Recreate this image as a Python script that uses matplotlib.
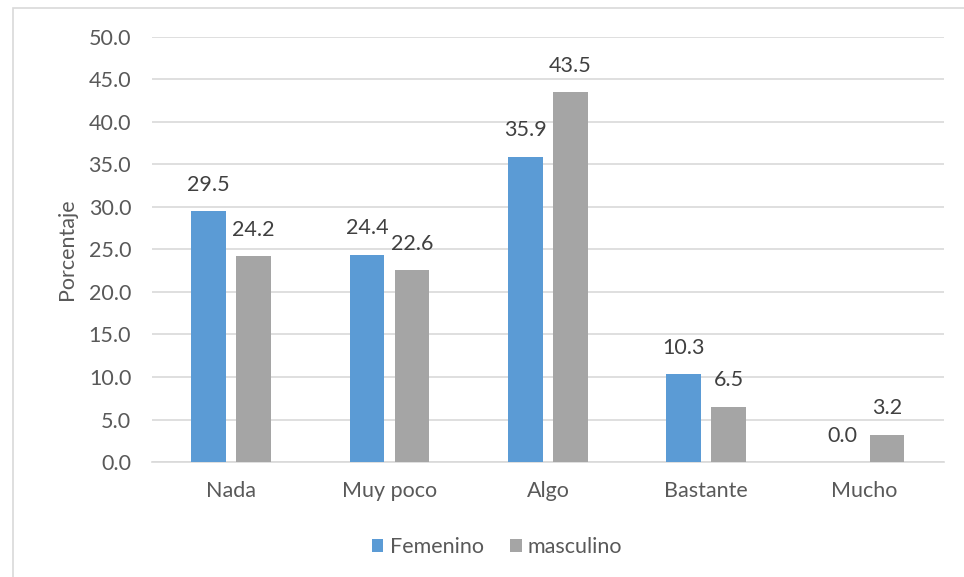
import numpy as np
import matplotlib.pyplot as plt
from matplotlib.patches import Rectangle

categories = ["Nada", "Muy poco", "Algo", "Bastante", "Mucho"]
femenino = [29.5, 24.4, 35.9, 10.3, 0.0]
masculino = [24.2, 22.6, 43.5, 6.5, 3.2]
yticks = [0, 5, 10, 15, 20, 25, 30, 35, 40, 45, 50]

plt.rcParams['font.family'] = ['Lato', 'DejaVu Sans']
fs = 15.5

fig = plt.figure(figsize=(9.64, 5.77), dpi=100)
# chart border (Excel style)
fig.patches.append(Rectangle((13 / 964, -0.1), 1.2, 1 - 8 / 577 + 0.1,
                             transform=fig.transFigure, fill=False,
                             edgecolor='#d9d9d9', linewidth=1.2))

ax = fig.add_axes([0.1577, 0.1993, 0.8213, 0.7366])
x = np.arange(len(categories))
w = 0.22
off = 0.142
b1 = ax.bar(x - off, femenino, w, color='#5b9bd5', label='Femenino', zorder=3)
b2 = ax.bar(x + off, masculino, w, color='#a5a5a5', label='masculino', zorder=3)

for bars, vals in ((b1, femenino), (b2, masculino)):
    for b, v in zip(bars, vals):
        ax.annotate(f"{v:.1f}", (b.get_x() + b.get_width() / 2, v),
                    xytext=(0, 19), textcoords='offset points',
                    ha='center', va='center', fontsize=fs, color='#404040')

ax.set_xlim(-0.5, 4.5)
ax.set_ylim(0, 50)
ax.set_yticks(yticks)
ax.set_yticklabels([f"{t:.1f}" for t in yticks])
ax.set_xticks(x)
ax.set_xticklabels(categories)
ax.yaxis.grid(True, color='#d9d9d9', linewidth=1.2, zorder=0)
ax.tick_params(axis='both', length=0, labelsize=fs, labelcolor='#595959')
ax.tick_params(axis='y', pad=15)
ax.tick_params(axis='x', pad=14)
for s in ['top', 'right', 'left']:
    ax.spines[s].set_visible(False)
ax.spines['bottom'].set_color('#d9d9d9')
ax.spines['bottom'].set_linewidth(1.2)
ax.set_ylabel("Porcentaje", fontsize=fs, color='#595959', labelpad=8)

fig.legend(loc='center', bbox_to_anchor=(497 / 964, 1 - 547 / 577), ncol=2,
           frameon=False, fontsize=fs, handlelength=0.55, handleheight=0.55,
           handletextpad=0.3, columnspacing=1.2, labelcolor='#595959')

fig.savefig('out.png', dpi=100)
